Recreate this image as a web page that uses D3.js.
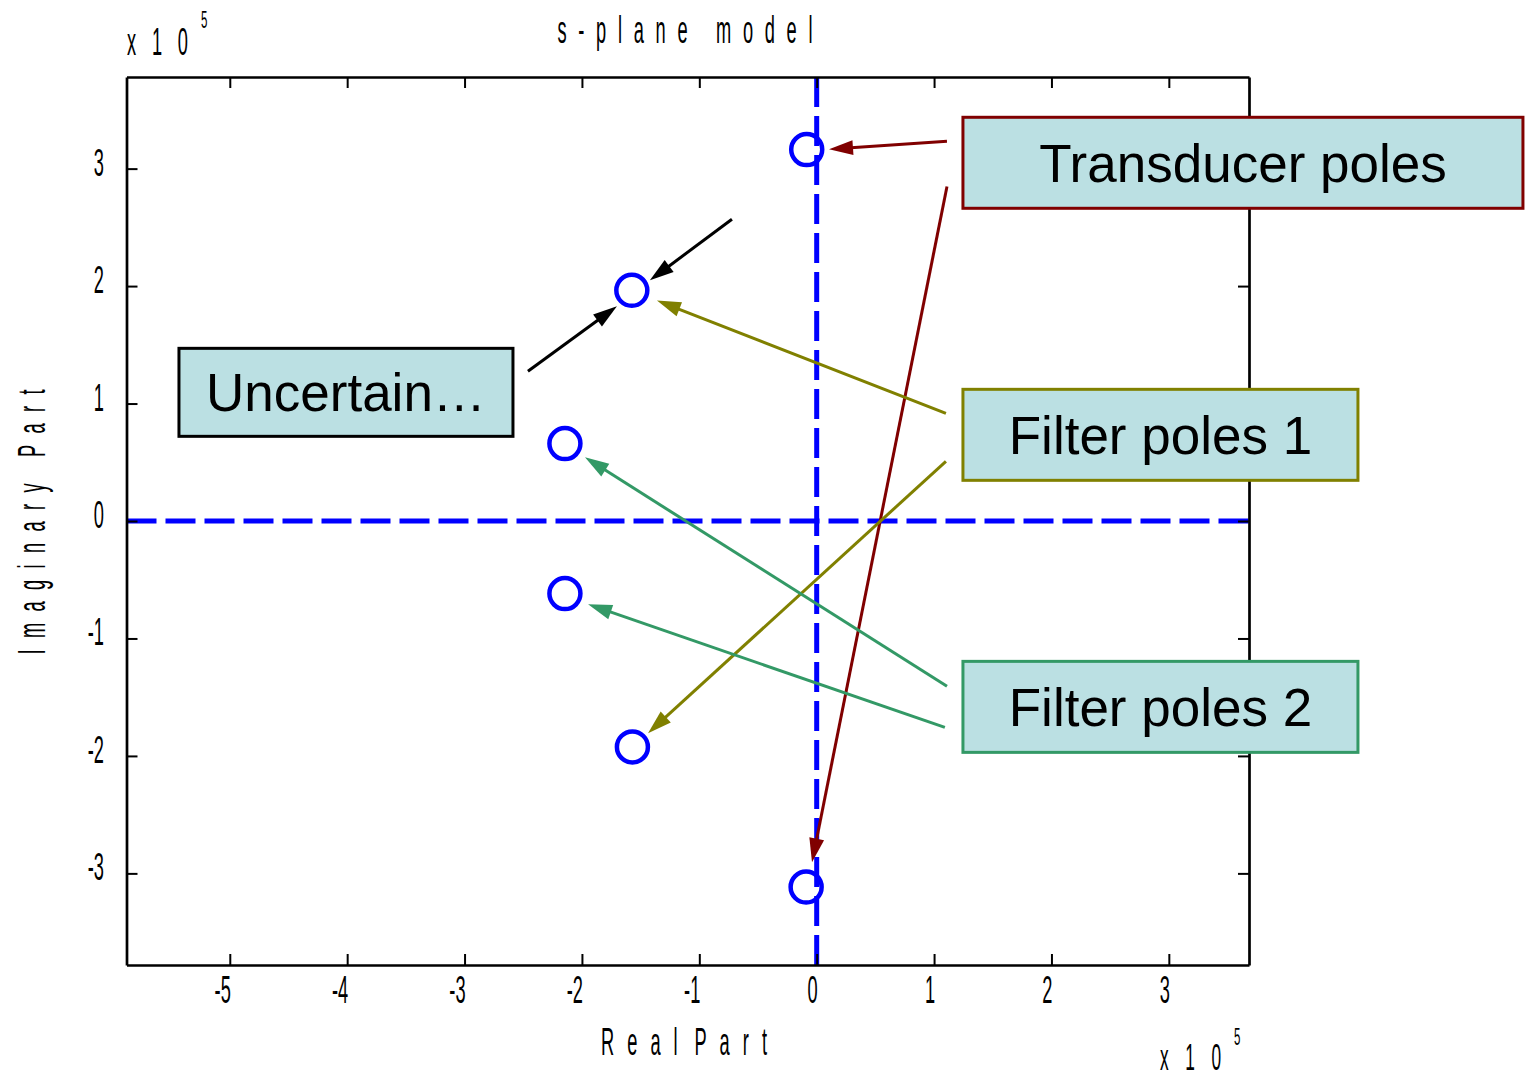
<!DOCTYPE html>
<html>
<head>
  <meta charset="utf-8">
  <title>s-plane model</title>
  <script src="https://cdn.jsdelivr.net/npm/d3@7"></script>
  <style>
    body { margin: 0; background: #fff; }
    svg { display: block; }
    .axis path, .axis line { stroke: #000; fill: none; }
    .lbl { font-family: "Liberation Sans", Arial, sans-serif; fill: #000; }
    .box text { font-family: "Liberation Sans", Arial, sans-serif; font-size: 53px; fill: #000; }
  </style>
</head>
<body>
  <div id="chart"></div>
  <script>
    // poles (units of 1e5)
    const realPart = [-0.085, -1.575, -2.145, -2.145, -1.57, -0.09]
    const imagPart = [3.162, 1.964, 0.659, -0.618, -1.924, -3.116]
    const xTicks = [-5, -4, -3, -2, -1, 0, 1, 2, 3]
    const yTicks = [-3, -2, -1, 0, 1, 2, 3]

    // annotation arrows, tail -> head, in data units
    const arrowColor = ['#800000', '#800000', '#808000', '#808000', '#339966', '#339966', '#000', '#000']
    const arrowTailX = [1.110, 1.110, 1.101, 1.101, 1.110, 1.092, -0.722, -2.460]
    const arrowTailY = [3.233, 2.848, 0.917, 0.508, -1.407, -1.757, 2.569, 1.275]
    const arrowHeadX = [0.105, -0.040, -1.361, -1.437, -1.974, -1.948, -1.421, -1.702]
    const arrowHeadY = [3.165, -2.906, 1.877, -1.807, 0.542, -0.709, 2.049, 1.828]

    // text boxes: label, anchor (top-left) in data units
    const boxText = ['Transducer poles', 'Filter poles 1', 'Filter poles 2', 'Uncertain…']
    const boxX = [1.246, 1.246, 1.246, -5.433]
    const boxY = [3.437, 1.121, -1.195, 1.470]
    const boxColor = ['#800000', '#808000', '#339966', '#000']

    const W = 1525, H = 1078
    const mLeft = 126.5, mRight = 1249, mTop = 77, mBottom = 965
    const boxW = [560, 395, 395, 334]
    const boxH = [91, 91, 91, 88]

    const x = d3.scaleLinear().domain([-5.88, 3.683]).range([mLeft, mRight])
    const y = d3.scaleLinear().domain([-3.78, 3.78]).range([mBottom, mTop])

    const svg = d3.select('#chart').append('svg')
      .attr('width', W).attr('height', H)

    // condensed, spaced out text like the old export
    const SX = 0.48
    function spaced(str, px, py, len, fs, anchor, rot) {
      const t = svg.append('text').attr('class', 'lbl')
        .attr('font-size', fs)
        .attr('text-anchor', anchor)
        .attr('transform', `translate(${px},${py})` + (rot ? ` rotate(${rot})` : '') + ` scale(${SX},1)`)
        .text(str)
      if (len) t.attr('textLength', len / SX).attr('lengthAdjust', 'spacing')
      return t
    }

    // dashed zero lines
    svg.append('line')
      .attr('x1', x(-5.88)).attr('x2', x(3.683)).attr('y1', y(0)).attr('y2', y(0))
      .attr('stroke', '#0000ff').attr('stroke-width', 5).attr('stroke-dasharray', '30,9')
    svg.append('line')
      .attr('x1', x(0)).attr('x2', x(0)).attr('y1', y(3.78)).attr('y2', y(-3.78))
      .attr('stroke', '#0000ff').attr('stroke-width', 5).attr('stroke-dasharray', '30,9')

    // poles
    svg.selectAll('circle.pole')
      .data(realPart)
      .enter()
      .append('circle')
      .attr('class', 'pole')
      .attr('cx', d => x(d))
      .attr('cy', (d, i) => y(imagPart[i]))
      .attr('r', 15.5)
      .attr('fill', 'none')
      .attr('stroke', '#0000ff')
      .attr('stroke-width', 4.5)

    // axes, ticks inward on all four sides
    function styleAxis(g) {
      g.select('.domain').attr('stroke-width', 2.7)
      g.selectAll('.tick line').attr('stroke-width', 2)
    }
    const axB = svg.append('g').attr('class', 'axis').attr('transform', `translate(0,${mBottom})`)
      .call(d3.axisBottom(x).tickValues(xTicks).tickSize(-11).tickSizeOuter(0).tickFormat(''))
    const axT = svg.append('g').attr('class', 'axis').attr('transform', `translate(0,${mTop})`)
      .call(d3.axisTop(x).tickValues(xTicks).tickSize(-11).tickSizeOuter(0).tickFormat(''))
    const axL = svg.append('g').attr('class', 'axis').attr('transform', `translate(${mLeft},0)`)
      .call(d3.axisLeft(y).tickValues(yTicks).tickSize(-11).tickSizeOuter(0).tickFormat(''))
    const axR = svg.append('g').attr('class', 'axis').attr('transform', `translate(${mRight},0)`)
      .call(d3.axisRight(y).tickValues(yTicks).tickSize(-11).tickSizeOuter(0).tickFormat(''))
    ;[axB, axT, axL, axR].forEach(styleAxis)

    // tick labels
    xTicks.forEach(v => spaced(String(v), x(v) + 1, mBottom + 38, null, 38, 'end'))
    yTicks.forEach(v => spaced(String(v), 104, y(v) + 7, null, 38, 'end'))

    // titles
    spaced('s-plane model', 685, 43, 255, 38, 'middle')
    spaced('Real Part', 684, 1055, 166, 38, 'middle').style('word-spacing', '-30px')
    spaced('Imaginary\u2009Part', 45, 522, 265, 38, 'middle', -90)
    spaced('x10', 127, 55, 61, 38, 'start')
    spaced('5', 201, 28, null, 24, 'start')
    spaced('x10', 1160, 1070, 61, 36, 'start')
    spaced('5', 1234, 1045, null, 24, 'start')

    // arrows
    arrowColor.forEach((c, i) => {
      const x0 = x(arrowTailX[i]), y0 = y(arrowTailY[i])
      const x1 = x(arrowHeadX[i]), y1 = y(arrowHeadY[i])
      const dx = x1 - x0, dy = y1 - y0, len = Math.hypot(dx, dy)
      const ux = dx / len, uy = dy / len
      const hl = 24, hw = 7.5
      const bx = x1 - ux * hl, by = y1 - uy * hl
      svg.append('line')
        .attr('x1', x0).attr('y1', y0).attr('x2', bx + ux * 2).attr('y2', by + uy * 2)
        .attr('stroke', c).attr('stroke-width', 3)
      svg.append('polygon')
        .attr('points', [[x1, y1], [bx - uy * hw, by + ux * hw], [bx + uy * hw, by - ux * hw]].map(p => p.join(',')).join(' '))
        .attr('fill', c)
    })

    // text boxes
    boxText.forEach((t, i) => {
      const bx = x(boxX[i]), by = y(boxY[i])
      const g = svg.append('g').attr('class', 'box')
      g.append('rect')
        .attr('x', bx).attr('y', by).attr('width', boxW[i]).attr('height', boxH[i])
        .attr('fill', '#bbe0e3').attr('stroke', boxColor[i]).attr('stroke-width', 3)
      g.append('text')
        .attr('x', bx + boxW[i] / 2).attr('y', by + boxH[i] / 2 + 19)
        .attr('text-anchor', 'middle')
        .text(t)
    })
  </script>
</body>
</html>
